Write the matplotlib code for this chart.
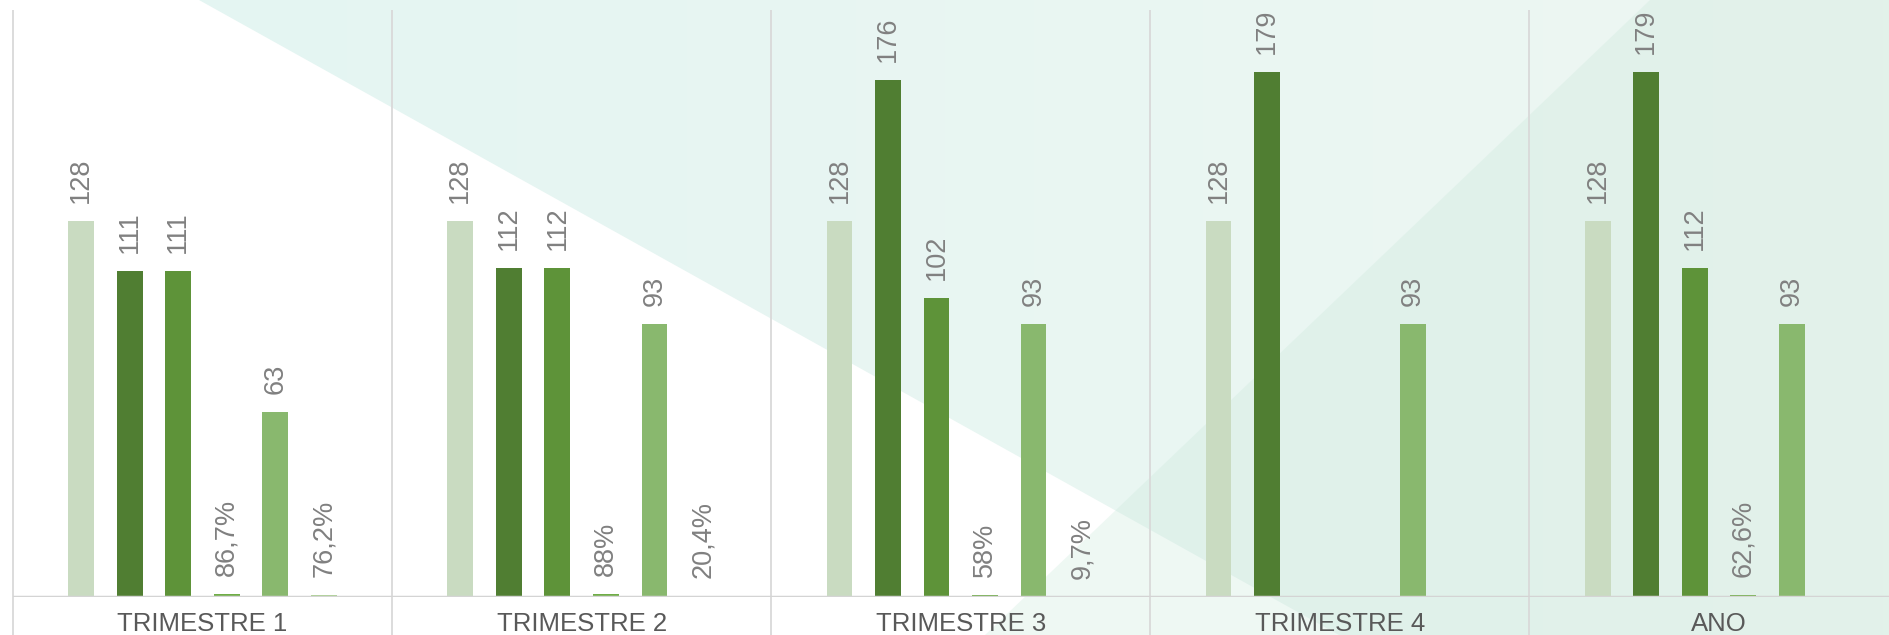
import numpy as np
import matplotlib
matplotlib.use('Agg')
import matplotlib.pyplot as plt
from matplotlib.patches import Polygon
from matplotlib.colors import to_rgb

FONT = ['Liberation Sans', 'DejaVu Sans']

categories = ['TRIMESTRE 1', 'TRIMESTRE 2', 'TRIMESTRE 3', 'TRIMESTRE 4', 'ANO']
nan = np.nan
s1 = [128, 128, 128, 128, 128]
s2 = [111, 112, 176, 179, 179]
s3 = [111, 112, 102, nan, 112]
s4 = [0.867, 0.88, 0.58, nan, 0.626]      # percentages, plotted as fraction
s5 = [63, 93, 93, 93, 93]
s6 = [0.762, 0.204, 0.097, nan, nan]      # percentages, plotted as fraction

series = [s1, s2, s3, s4, s5, s6]
is_pct = [False, False, False, True, False, True]
colors = ['#c9dbc1', '#507e32', '#5e9339', '#70ad47', '#89b86e', '#a9d18e']


def fmt(v, pct):
    if not pct:
        return f'{v:.0f}'
    s = f'{v * 100:.1f}'.replace('.', ',')
    if s.endswith(',0'):
        s = s[:-2]
    return s + '%'


fig = plt.figure(figsize=(18.9, 6.35), dpi=100)
fig.patch.set_facecolor('white')

# background decoration
bg = fig.add_axes([0, 0, 1, 1])
bg.set_axis_off()
bg.set_xlim(0, 1890)
bg.set_ylim(635, 0)
c0 = np.array(to_rgb('#e3f5f3'))
c1 = np.array(to_rgb('#eef7f2'))
grad = np.linspace(0, 1, 256)[None, :, None]
img = c0 + (c1 - c0) * grad
im = bg.imshow(img, extent=(0, 1890, 635, 0), aspect='auto')
tri1 = Polygon([(199, 0), (1890, 0), (1890, 635), (1339, 635)], closed=True,
               facecolor='none', edgecolor='none')
bg.add_patch(tri1)
im.set_clip_path(tri1)
tri2 = Polygon([(985, 635), (1650, 0), (1890, 0), (1890, 635)], closed=True,
               facecolor='#c9e8da', alpha=0.3, edgecolor='none')
bg.add_patch(tri2)

ax = fig.add_axes([13 / 1890, 38 / 635, 1895.5 / 1890, 587 / 635])
ax.patch.set_alpha(0)
x = np.arange(len(categories))
width = 0.068
step = 0.128

for i, (vals, col) in enumerate(zip(series, colors)):
    pos = x + (i - 2.5) * step
    ax.bar(pos, vals, width, color=col, zorder=3)
    for xp, v in zip(pos, vals):
        if np.isnan(v):
            continue
        ax.annotate(fmt(v, is_pct[i]), (xp, v), xytext=(0, 13),
                    textcoords='offset points', rotation=90,
                    ha='center', va='bottom', fontsize=19.5,
                    color='#808080', family=FONT, zorder=5)

ax.set_xlim(-0.5, len(categories) - 0.5)
ax.set_ylim(0, 200)
ax.vlines(np.arange(-0.5, len(categories)), -15, 200, colors='#d9d9d9',
          lw=1.3, clip_on=False, zorder=1)
ax.axhline(0, color='#d4d4d4', lw=2.5, zorder=4)

ax.set_xticks(x, categories)
ax.tick_params(axis='x', length=0, pad=11, labelsize=18.5, labelcolor='#595959')
for lab in ax.get_xticklabels():
    lab.set_family(FONT)
ax.set_yticks([])
for sp in ax.spines.values():
    sp.set_visible(False)

fig.savefig('out.png', dpi=100)
